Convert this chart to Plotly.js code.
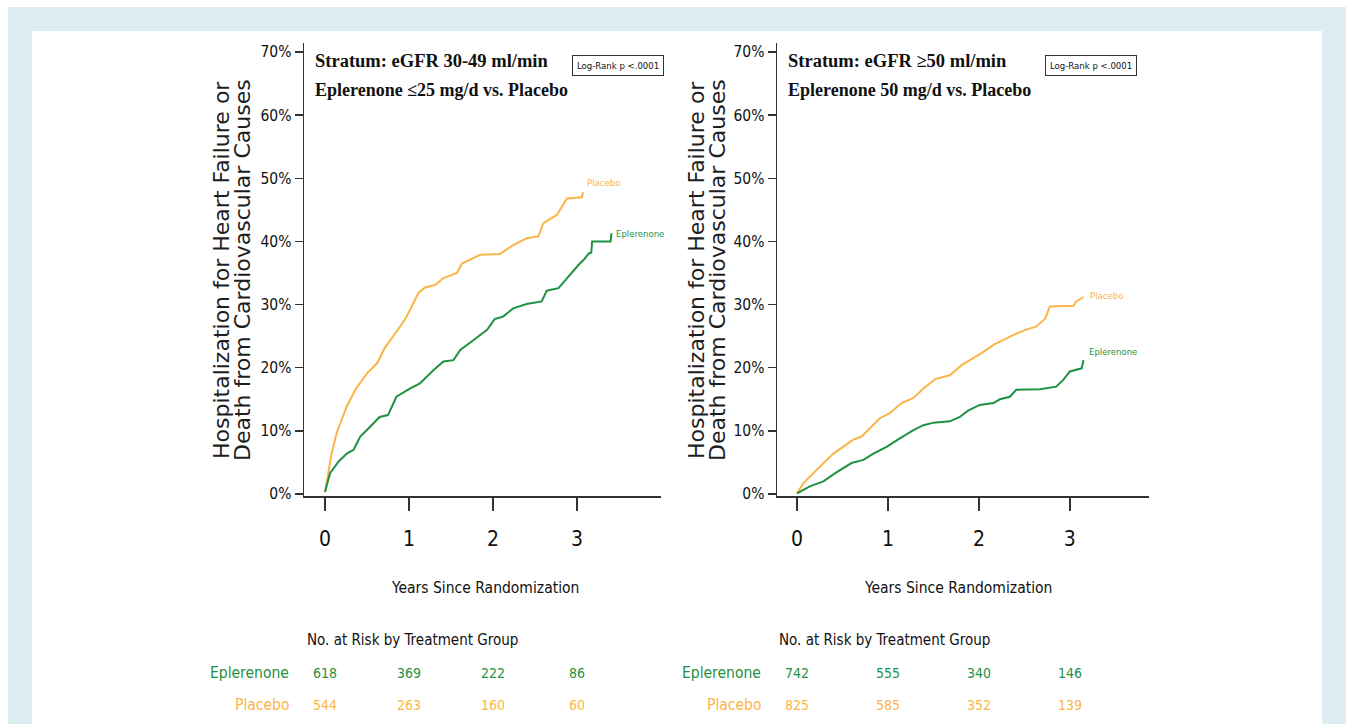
<!DOCTYPE html>
<html>
<head>
<meta charset="utf-8">
<script src="https://cdn.plot.ly/plotly-3.0.1.min.js"></script>
<style>
  html, body { margin: 0; padding: 0; background: #ffffff; }
  #chart { width: 1346px; height: 724px; }
</style>
</head>
<body>
<div id="chart"></div>
<script>
// ---------- DATA ----------
// Left panel: eGFR 30-49 ml/min (years, cumulative % events)
const leftPlaceboT   = [0, 0.08, 0.14, 0.26, 0.36, 0.50, 0.62, 0.71, 0.85, 0.95, 1.01, 1.11, 1.19, 1.31, 1.41, 1.57, 1.63, 1.85, 2.08, 2.24, 2.40, 2.54, 2.60, 2.76, 2.88, 3.06, 3.07];
const leftPlaceboY   = [0.3, 6.5, 9.7, 13.9, 16.5, 19.1, 20.7, 23.1, 25.7, 27.6, 29.1, 31.8, 32.7, 33.1, 34.2, 35.0, 36.5, 37.9, 38.0, 39.4, 40.5, 40.8, 42.9, 44.2, 46.8, 47.0, 47.8];
const leftEplerT     = [0, 0.06, 0.16, 0.26, 0.34, 0.42, 0.54, 0.65, 0.75, 0.85, 1.01, 1.13, 1.29, 1.41, 1.53, 1.61, 1.77, 1.93, 2.02, 2.12, 2.24, 2.40, 2.58, 2.64, 2.78, 2.90, 3.02, 3.08, 3.14, 3.17, 3.18, 3.40, 3.41];
const leftEplerY     = [0.3, 3.3, 5.1, 6.4, 7.0, 9.1, 10.7, 12.2, 12.5, 15.4, 16.7, 17.5, 19.6, 21.0, 21.2, 22.8, 24.4, 26.0, 27.7, 28.1, 29.4, 30.1, 30.5, 32.2, 32.6, 34.5, 36.3, 37.1, 38.1, 38.2, 40.0, 40.0, 41.3];
// Right panel: eGFR >=50 ml/min
const rightPlaceboT  = [0, 0.07, 0.18, 0.29, 0.40, 0.51, 0.62, 0.71, 0.80, 0.91, 1.02, 1.15, 1.28, 1.39, 1.52, 1.68, 1.81, 1.94, 2.05, 2.16, 2.27, 2.38, 2.51, 2.63, 2.73, 2.78, 3.04, 3.07, 3.15];
const rightPlaceboY  = [0.1, 1.7, 3.3, 4.9, 6.4, 7.5, 8.6, 9.1, 10.4, 12.0, 12.8, 14.4, 15.2, 16.7, 18.2, 18.8, 20.4, 21.5, 22.5, 23.6, 24.4, 25.2, 26.0, 26.5, 27.8, 29.7, 29.8, 30.5, 31.2];
const rightEplerT    = [0, 0.14, 0.29, 0.42, 0.60, 0.73, 0.84, 0.99, 1.13, 1.28, 1.39, 1.50, 1.68, 1.79, 1.88, 2.01, 2.16, 2.23, 2.34, 2.41, 2.67, 2.85, 2.93, 3.00, 3.13, 3.15];
const rightEplerY    = [0.1, 1.2, 2.0, 3.3, 4.9, 5.4, 6.4, 7.5, 8.8, 10.1, 10.9, 11.3, 11.5, 12.2, 13.2, 14.1, 14.4, 15.0, 15.4, 16.5, 16.6, 17.0, 18.1, 19.4, 19.9, 21.2];

// Number at risk (at years 0,1,2,3)
const riskYears        = [0, 1, 2, 3];
const leftRiskEpler    = [618, 369, 222, 86];
const leftRiskPlacebo  = [544, 263, 160, 60];
const rightRiskEpler   = [742, 555, 340, 146];
const rightRiskPlacebo = [825, 585, 352, 139];

const yTickVals = [0, 10, 20, 30, 40, 50, 60, 70];
const yTickText = ['0%', '10%', '20%', '30%', '40%', '50%', '60%', '70%'];
const xTickVals = [0, 1, 2, 3];
const groupNames = ['Eplerenone', 'Placebo'];

// ---------- STYLE ----------
const W = 1346, H = 724;
const px = v => v / W;
const py = v => 1 - v / H;
const GREEN = '#1f9142';
const ORANGE = '#fbb447';
const NARROW = '"Liberation Sans Narrow", "Arial Narrow", "DejaVu Sans Condensed", sans-serif';
const SERIF = '"Liberation Serif", "Times New Roman", serif';
const SANS = '"DejaVu Sans", Verdana, sans-serif';
const AX = '#333333';

function curve(x, y, color, xa, ya, name) {
  return { x: x, y: y, type: 'scatter', mode: 'lines', line: { shape: 'linear', color: color, width: 2 },
           xaxis: xa, yaxis: ya, name: name, showlegend: false, hoverinfo: 'skip' };
}

const traces = [
  curve(leftPlaceboT, leftPlaceboY, ORANGE, 'x', 'y', 'Placebo'),
  curve(leftEplerT, leftEplerY, GREEN, 'x', 'y', 'Eplerenone'),
  curve(rightPlaceboT, rightPlaceboY, ORANGE, 'x2', 'y2', 'Placebo'),
  curve(rightEplerT, rightEplerY, GREEN, 'x2', 'y2', 'Eplerenone')
];

function xAxis(domain, range, anchor) {
  return { domain: domain, range: range, anchor: anchor, tickvals: xTickVals, ticks: 'outside', ticklen: 13, tickwidth: 1.5,
           tickcolor: AX, showline: true, linecolor: AX, linewidth: 1.5, showgrid: false, zeroline: false,
           tickfont: { family: NARROW, size: 21, color: '#111' }, ticklabelstandoff: 10, fixedrange: true };
}
function yAxis(anchor) {
  return { domain: [py(496), py(43)], range: [-0.32, 71.43], tickvals: yTickVals, ticktext: yTickText,
           ticks: 'outside', ticklen: 8, tickwidth: 1.5, tickcolor: AX, showline: true, linecolor: AX,
           linewidth: 1.5, showgrid: false, zeroline: false, anchor: anchor,
           tickfont: { family: NARROW, size: 15.5, color: '#111' }, fixedrange: true };
}

const ann = [];
function txt(text, x, y, opts) {
  ann.push(Object.assign({ text: text, x: x, y: y, xref: 'paper', yref: 'paper', showarrow: false,
    xanchor: 'left', yanchor: 'middle', font: { family: NARROW, size: 15, color: '#111' } }, opts || {}));
}

const panels = [
  { l: 313, t1: 'Stratum: eGFR 30-49 ml/min', t2: 'Eplerenone \u226425 mg/d vs. Placebo', box: 618,
    yt1: 221, yt2: 242, xc: 485, xa: 'x', ya: 'y', risk: [leftRiskEpler, leftRiskPlacebo], rl: 291, head: 305,
    lab: [[3.10, 49.3], [3.44, 41.3]] },
  { l: 786, t1: 'Stratum: eGFR \u226550 ml/min', t2: 'Eplerenone 50 mg/d vs. Placebo', box: 1091,
    yt1: 696, yt2: 717, xc: 958, xa: 'x2', ya: 'y2', risk: [rightRiskEpler, rightRiskPlacebo], rl: 763, head: 777,
    lab: [[3.20, 31.5], [3.19, 22.5]] }
];

panels.forEach(p => {
  txt(p.t1, px(p.l), py(61), { font: { family: SERIF, size: 18.5, color: '#111', weight: 'bold' } });
  txt(p.t2, px(p.l), py(90), { font: { family: SERIF, size: 18, color: '#111', weight: 'bold' } });
  txt('Log-Rank p &lt;.0001', px(p.box), py(65.5), { xanchor: 'center', bordercolor: '#333', borderwidth: 1,
      borderpad: 4, font: { family: NARROW, size: 9.5, color: '#111' } });
  txt('Hospitalization for Heart Failure or', px(p.yt1), py(270), { xanchor: 'center', textangle: -90,
      font: { family: SANS, size: 22, color: '#1e1e1e' } });
  txt('Death from Cardiovascular Causes', px(p.yt2), py(270), { xanchor: 'center', textangle: -90,
      font: { family: SANS, size: 22, color: '#1e1e1e' } });
  txt('Years Since Randomization', px(p.xc), py(588), { xanchor: 'center', font: { family: NARROW, size: 15.5, color: '#111' } });
  txt('No. at Risk by Treatment Group', px(p.head), py(640), { font: { family: NARROW, size: 15, color: '#111' } });
  txt(groupNames[0], px(p.rl), py(673), { xanchor: 'right', font: { family: NARROW, size: 15.5, color: GREEN } });
  txt(groupNames[1], px(p.rl), py(705), { xanchor: 'right', font: { family: NARROW, size: 15.5, color: ORANGE } });
  riskYears.forEach((yr, i) => {
    ann.push({ text: String(p.risk[0][i]), x: yr, xref: p.xa, y: py(673), yref: 'paper', showarrow: false,
      xanchor: 'center', yanchor: 'middle', font: { family: NARROW, size: 14, color: GREEN } });
    ann.push({ text: String(p.risk[1][i]), x: yr, xref: p.xa, y: py(705), yref: 'paper', showarrow: false,
      xanchor: 'center', yanchor: 'middle', font: { family: NARROW, size: 14, color: ORANGE } });
  });
  ann.push({ text: 'Placebo', x: p.lab[0][0], y: p.lab[0][1], xref: p.xa, yref: p.ya, showarrow: false,
    xanchor: 'left', yanchor: 'middle', font: { family: NARROW, size: 9.5, color: ORANGE } });
  ann.push({ text: 'Eplerenone', x: p.lab[1][0], y: p.lab[1][1], xref: p.xa, yref: p.ya, showarrow: false,
    xanchor: 'left', yanchor: 'middle', font: { family: NARROW, size: 9.5, color: GREEN } });
});

const layout = {
  width: W, height: H,
  margin: { l: 0, r: 0, t: 0, b: 0 },
  paper_bgcolor: '#ffffff', plot_bgcolor: '#ffffff',
  showlegend: false,
  xaxis: xAxis([px(304), px(661)], [-0.25, 4.0], 'y'),
  yaxis: yAxis('x'),
  xaxis2: xAxis([px(777), px(1149)], [-0.22, 3.87], 'y2'),
  yaxis2: yAxis('x2'),
  annotations: ann,
  shapes: [
    { type: 'rect', xref: 'paper', yref: 'paper', x0: px(8), x1: 1, y0: 0, y1: py(7),
      fillcolor: '#ddedf2', line: { width: 0 }, layer: 'below' },
    { type: 'rect', xref: 'paper', yref: 'paper', x0: px(32), x1: px(1322), y0: 0, y1: py(31),
      fillcolor: '#ffffff', line: { width: 0 }, layer: 'below' }
  ]
};

Plotly.newPlot('chart', traces, layout, { displayModeBar: false, staticPlot: true });
</script>
</body>
</html>
